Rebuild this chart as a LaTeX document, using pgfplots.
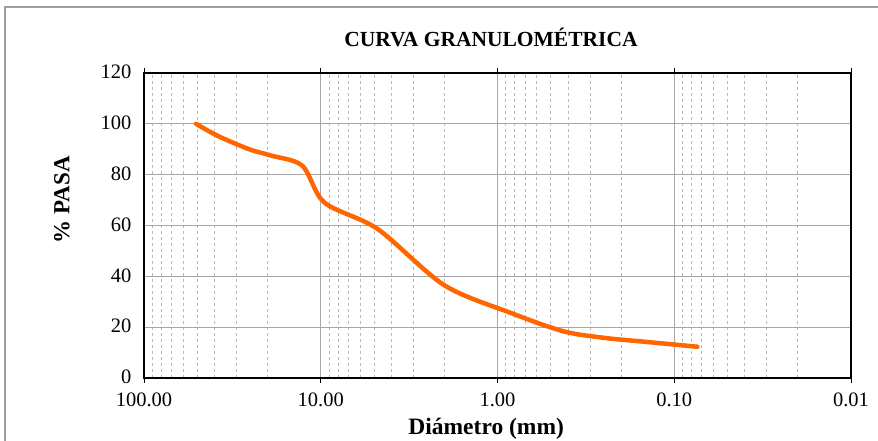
\documentclass[border=0pt]{standalone}
\usepackage{pgfplots}
\pgfplotsset{compat=1.18}
\usepackage{fontspec}
\setmainfont{Liberation Serif}
\definecolor{curve}{RGB}{255,102,0}
\begin{document}
\begin{tikzpicture}[x=1pt,y=1pt]
\path[use as bounding box] (0,0) rectangle (878,440);
\clip (0,0) rectangle (878,440);
\draw[gray!75, line width=1.5pt] (5,-20) rectangle (900,433);
\node[font=\fontsize{21.5}{24}\selectfont\bfseries] at (491,403) {CURVA GRANULOMÉTRICA};
\begin{axis}[
  at={(144pt,62pt)}, anchor=south west,
  scale only axis, width=707pt, height=305pt,
  xmode=log, x dir=reverse,
  xmin=0.01, xmax=100, ymin=0, ymax=120,
  ytick={0,20,...,120},
  xtick={100,10,1,0.1,0.01},
  xticklabels={100.00,10.00,1.00,0.10,0.01},
  minor xtick={0.02,0.03,0.04,0.05,0.06,0.07,0.08,0.09,
               0.2,0.3,0.4,0.5,0.6,0.7,0.8,0.9,
               2,3,4,5,6,7,8,9,
               20,30,40,50,60,70,80,90},
  log basis x=10,
  /pgf/number format/assume math mode=true,
  axis line style={black, line width=1.6pt},
  grid=both,
  major grid style={gray!70, line width=0.8pt},
  minor x grid style={gray!55, dashed, line width=0.6pt},
  minor y tick num=0,
  tick align=outside,
  major tick length=5pt,
  xtick style={black, line width=0.8pt},
  ytick style={draw=none},
  minor tick style={draw=none},
  tick label style={font=\fontsize{20.5}{22}\selectfont},
  xticklabel style={yshift=-6pt},
  yticklabel style={xshift=-4pt, yshift=1pt},
  xlabel={Diámetro (mm)},
  ylabel={\% PASA},
  xlabel style={font=\fontsize{23.5}{26}\selectfont\bfseries, at={(axis description cs:0.484,-0.167)}, anchor=center},
  ylabel style={font=\fontsize{23}{26}\selectfont\bfseries, at={(axis description cs:-0.116,0.584)}, anchor=center, rotate=0},
  clip=false,
]
\addplot[curve, line width=4.5pt, smooth, line cap=round, line join=round] coordinates {
(50.8,100) (38.1,95.2) (25.4,90) (19.05,87.5) (12.7,83.5) (9.525,69) (4.76,58.6)
(2.0,36.5) (0.84,25.6) (0.425,18.4) (0.25,15.8) (0.149,14.3) (0.074,12.3)
};
\end{axis}
\end{tikzpicture}
\end{document}
